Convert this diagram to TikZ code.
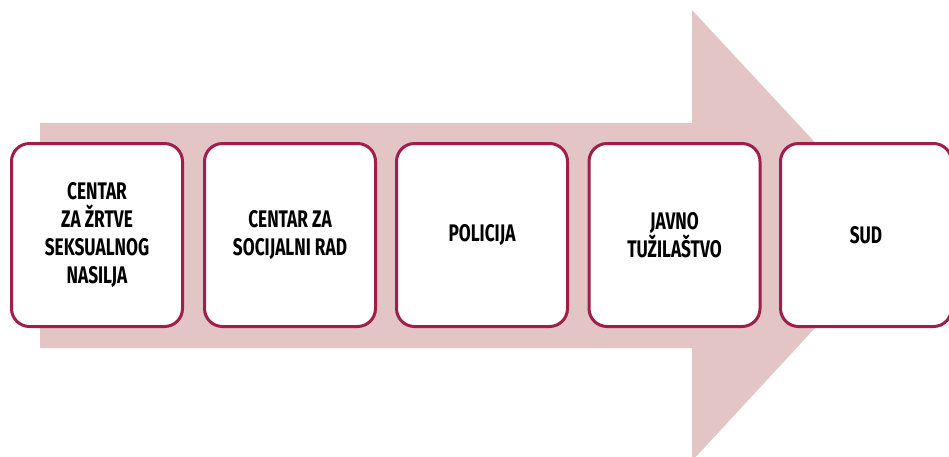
\documentclass[tikz,border=0pt]{standalone}
\usepackage{fontspec}
\setmainfont[FakeStretch=0.72]{Fira Sans}
\begin{document}
\begin{tikzpicture}[x=1pt,y=-1pt]
\definecolor{col}{HTML}{E2C5C4}
\definecolor{rim}{HTML}{A01F4A}
\tikzset{stage/.style={draw=rim, line width=3pt, fill=white, rounded corners=18pt, minimum width=171pt, minimum height=183pt, inner sep=0pt, align=center, text=black, font=\bfseries\fontsize{24}{28}\selectfont}}
\useasboundingbox (0,0) rectangle (949,456);
% big arrow behind the stages
\fill[col] (40,123) -- (692,123) -- (692,10) -- (901,235) -- (692,461) -- (692,348) -- (40,348) -- cycle;
\node[stage] (centar) at (97,235) {CENTAR\\ZA ŽRTVE\\SEKSUALNOG\\NASILJA};
\node[stage] (csr) at (290,235) {CENTAR ZA\\SOCIJALNI RAD};
\node[stage] (policija) at (482,235) {POLICIJA};
\node[stage] (tuzilastvo) at (674.5,235) {JAVNO\\TUŽILAŠTVO};
\node[stage] (sud) at (866,235) {SUD};
\end{tikzpicture}
\end{document}
